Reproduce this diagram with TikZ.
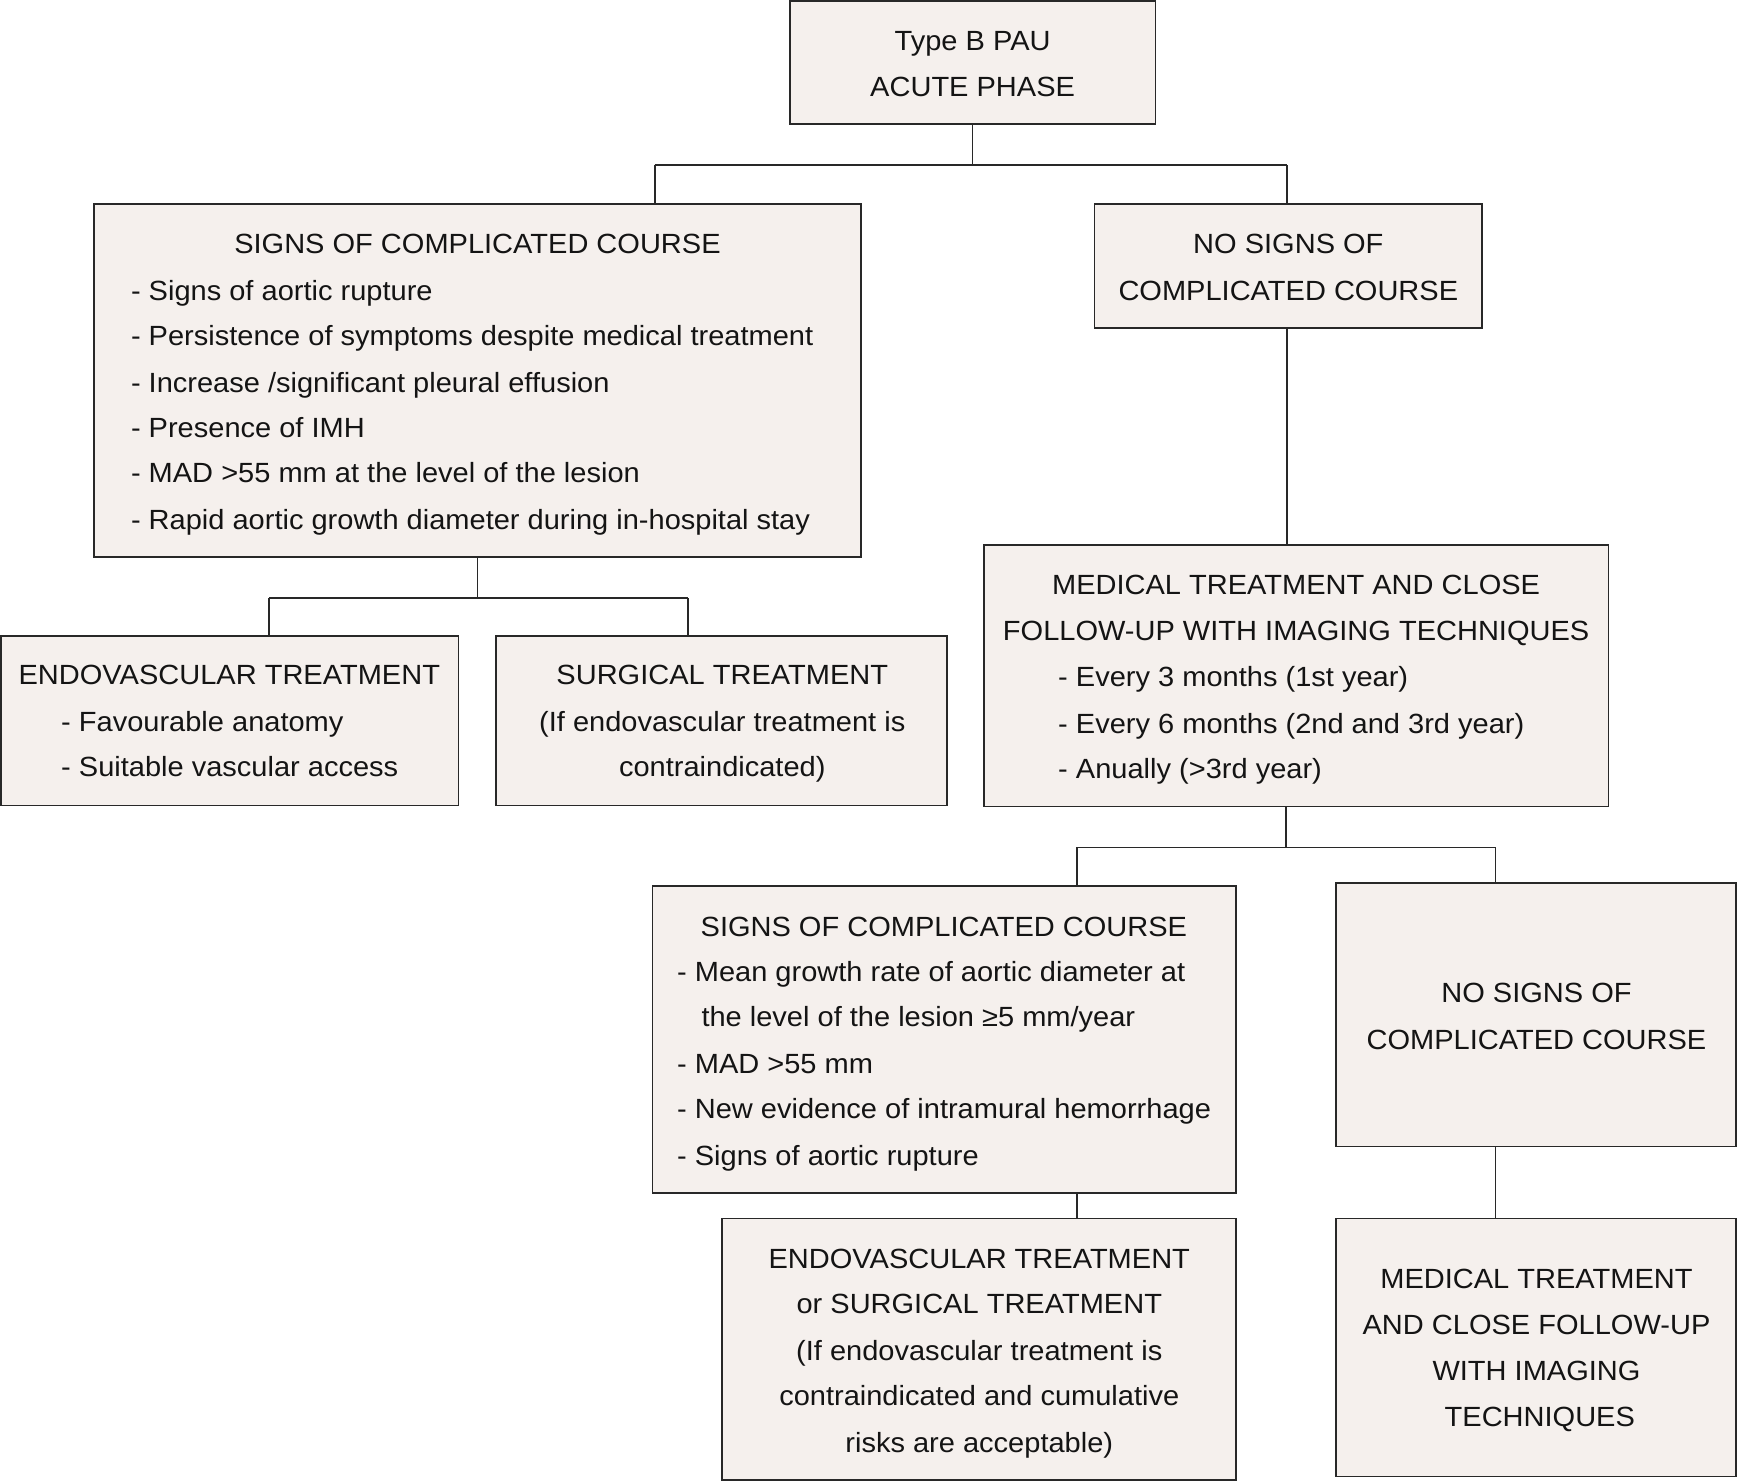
\documentclass[tikz,border=0pt]{standalone}
\usepackage{fontspec}
\setmainfont[FakeStretch=1.045]{Liberation Sans}
\definecolor{boxfill}{RGB}{245,240,237}
\definecolor{boxline}{RGB}{40,40,40}
\definecolor{ink}{RGB}{20,20,20}
\begin{document}
\begin{tikzpicture}[x=0.75pt,y=-0.75pt,
  box/.style={draw=boxline,fill=boxfill,line width=1.1pt,inner sep=0pt,outer sep=0pt,anchor=north west},
  txt/.style={inner sep=0pt,anchor=base,text=ink,font=\fontsize{18.8}{22}\selectfont},
  itm/.style={txt,anchor=base west},
  conn/.style={draw=boxline,line width=1.1pt}]
\useasboundingbox (0,0) rectangle (1568,1338);
% boxes
\node[box,minimum width=247.5pt,minimum height=83.25pt] (top) at (713,1) {};
\node[box,minimum width=519pt,minimum height=239.25pt] (signsL) at (85,184) {};
\node[box,minimum width=262.5pt,minimum height=84pt] (noL) at (988,184) {};
\node[box,minimum width=423pt,minimum height=177pt] (med) at (888,492) {};
\node[box,minimum width=309.75pt,minimum height=114.75pt] (endo) at (1,574) {};
\node[box,minimum width=305.25pt,minimum height=114.75pt] (surg) at (448,574) {};
\node[box,minimum width=395.25pt,minimum height=207.75pt] (signs2) at (589,800) {};
\node[box,minimum width=270.75pt,minimum height=178.5pt] (no2) at (1206,797) {};
\node[box,minimum width=348pt,minimum height=177pt] (es) at (652,1100) {};
\node[box,minimum width=270.75pt,minimum height=174.75pt] (med2) at (1206,1100) {};
% connectors
\coordinate (k1) at (591,149);
\coordinate (k2) at (1162,149);
\draw[conn] (top.south) -- (top.south |- k1);
\draw[conn] (k1) -- (k2);
\draw[conn] (k1) -- (k1 |- signsL.north);
\draw[conn] (k2) -- (k2 |- noL.north);
\draw[conn] (k2 |- noL.south) -- (k2 |- med.north);
\coordinate (k3) at (243,540);
\coordinate (k4) at (621,540);
\draw[conn] (signsL.south) -- (signsL.south |- k3);
\draw[conn] (k3) -- (k4);
\draw[conn] (k3) -- (k3 |- endo.north);
\draw[conn] (k4) -- (k4 |- surg.north);
\coordinate (k5) at (972,765);
\coordinate (k6) at (1350,765);
\coordinate (k7) at (1161,765);
\draw[conn] (k7 |- med.south) -- (k7);
\draw[conn] (k5) -- (k6);
\draw[conn] (k5) -- (k5 |- signs2.north);
\draw[conn] (k6) -- (k6 |- no2.north);
\draw[conn] (k5 |- signs2.south) -- (k5 |- es.north);
\draw[conn] (k6 |- no2.south) -- (k6 |- med2.north);
% texts
\node[txt] (ta) at (878,46) {Type B PAU};
\node[txt] (tb) at (878,87) {ACUTE PHASE};
\node[txt] (sa) at (431,229) {SIGNS OF COMPLICATED COURSE};
\node[itm] (sb) at (118,271) {- Signs of aortic rupture};
\node[itm] (sc) at (118,312) {- Persistence of symptoms despite medical treatment};
\node[itm] (sd) at (118,354) {- Increase /significant pleural effusion};
\node[itm] (se) at (118,395) {- Presence of IMH};
\node[itm] (sf) at (118,436) {- MAD >55 mm at the level of the lesion};
\node[itm] (sg) at (118,478) {- Rapid aortic growth diameter during in-hospital stay};
\node[txt] (na) at (1163,229) {NO SIGNS OF};
\node[txt] (nb) at (1163,271) {COMPLICATED COURSE};
\node[txt] (ma) at (1170,537) {MEDICAL TREATMENT AND CLOSE};
\node[txt] (mb) at (1170,578) {FOLLOW-UP WITH IMAGING TECHNIQUES};
\node[itm] (mc) at (955,620) {- Every 3 months (1st year)};
\node[itm] (md) at (955,662) {- Every 6 months (2nd and 3rd year)};
\node[itm] (me) at (955,703) {- Anually (>3rd year)};
\node[txt] (ea) at (207,618) {ENDOVASCULAR TREATMENT};
\node[itm] (eb) at (55,660) {- Favourable anatomy};
\node[itm] (ec) at (55,701) {- Suitable vascular access};
\node[txt] (ua) at (652,618) {SURGICAL TREATMENT};
\node[txt] (ub) at (652,660) {(If endovascular treatment is};
\node[txt] (uc) at (652,701) {contraindicated)};
\node[txt] (ca) at (852,845) {SIGNS OF COMPLICATED COURSE};
\node[itm] (cb) at (611,886) {- Mean growth rate of aortic diameter at};
\node[itm] (cc) at (633,927) {the level of the lesion ≥5 mm/year};
\node[itm] (cd) at (611,969) {- MAD >55 mm};
\node[itm] (ce) at (611,1010) {- New evidence of intramural hemorrhage};
\node[itm] (cf) at (611,1052) {- Signs of aortic rupture};
\node[txt] (oa) at (1387,905) {NO SIGNS OF};
\node[txt] (ob) at (1387,947) {COMPLICATED COURSE};
\node[txt] (xa) at (884,1145) {ENDOVASCULAR TREATMENT};
\node[txt] (xb) at (884,1186) {or SURGICAL TREATMENT};
\node[txt] (xc) at (884,1228) {(If endovascular treatment is};
\node[txt] (xd) at (884,1269) {contraindicated and cumulative};
\node[txt] (xe) at (884,1311) {risks are acceptable)};
\node[txt] (ya) at (1387,1163) {MEDICAL TREATMENT};
\node[txt] (yb) at (1387,1205) {AND CLOSE FOLLOW-UP};
\node[txt] (yc) at (1387,1246) {WITH IMAGING};
\node[txt] (yd) at (1390,1288) {TECHNIQUES};
\end{tikzpicture}
\end{document}
